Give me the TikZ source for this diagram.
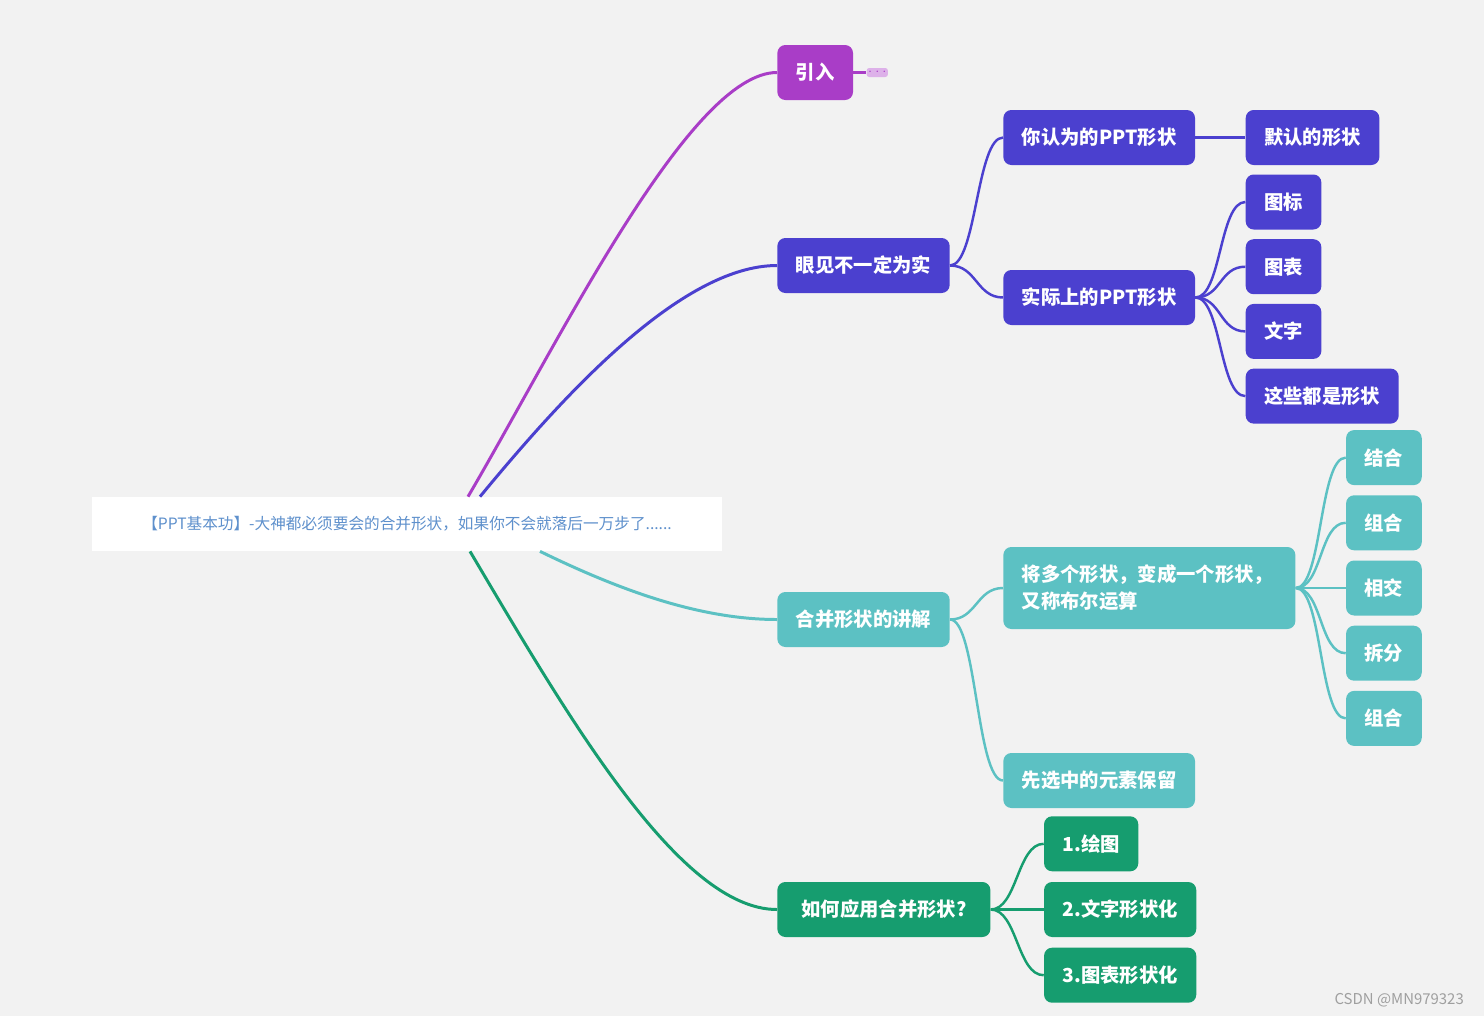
\documentclass[tikz,border=0pt]{standalone}
\usepackage{fontspec}
\setmainfont{Noto Sans CJK SC}
\usepackage{xcolor}
\usepackage{tikz}
\usetikzlibrary{shapes, positioning}

\definecolor{bgGray}{HTML}{F2F2F2}
\definecolor{introPurple}{HTML}{A93DC7}
\definecolor{seeBlue}{HTML}{4B40CF}
\definecolor{mergeTeal}{HTML}{5CC1C3}
\definecolor{applyGreen}{HTML}{169D6F}
\definecolor{rootText}{HTML}{5E90CC}

\tikzstyle{topic} = [rectangle, rounded corners=0.16cm, text=white,
    inner xsep=0.37cm, minimum height=1.1cm, font=\fontsize{11pt}{15.3pt}\selectfont\bfseries]
\tikzstyle{branch} = [line width=1.7pt]
\tikzstyle{twig} = [line width=1.4pt]

\begin{document}
\begin{tikzpicture}
    \useasboundingbox [fill=bgGray] (0,0) rectangle (29.68,-20.32);

    % Place nodes
	\node [fill=white, minimum width=12.6cm, minimum height=1.08cm, text=rootText,
	    font=\fontsize{8.9pt}{10pt}\selectfont] (Root) at (8.14,-10.48) {【PPT基本功】-大神都必须要会的合并形状，如果你不会就落后一万步了......};

	\node [topic, fill=introPurple, anchor=west] (Intro) at (15.54,-1.45) {引入};
	\node [topic, fill=seeBlue, anchor=west] (Seeing) at (15.54,-5.31) {眼见不一定为实};
	\node [topic, fill=mergeTeal, anchor=west] (Explain) at (15.54,-12.39) {合并形状的讲解};
	\node [topic, fill=applyGreen, anchor=west, minimum width=4.26cm] (Apply) at (15.54,-18.19) {如何应用合并形状?};

	\node [rectangle, rounded corners=0.05cm, fill=introPurple!40, text=introPurple, inner sep=0pt,
	    minimum width=0.4cm, minimum height=0.18cm, font=\fontsize{4pt}{4pt}\selectfont, right=0.26cm of Intro] (More) {···};

	\node [topic, fill=seeBlue, right=1.06cm of Seeing, yshift=2.56cm] (Think) {你认为的PPT形状};
	\node [topic, fill=seeBlue, right=1.06cm of Seeing, yshift=-0.64cm] (Actual) {实际上的PPT形状};
	\node [topic, fill=seeBlue, right=1.0cm of Think] (Default) {默认的形状};
	\node [topic, fill=seeBlue, right=1.0cm of Actual, yshift=1.91cm] (Icon) {图标};
	\node [topic, fill=seeBlue, below right=0.18cm and 0cm of Icon.south west] (Chart) {图表};
	\node [topic, fill=seeBlue, below right=0.18cm and 0cm of Chart.south west] (Words) {文字};
	\node [topic, fill=seeBlue, below right=0.18cm and 0cm of Words.south west] (AllShapes) {这些都是形状};

	\node [topic, fill=mergeTeal, text width=5.1cm, align=left, minimum height=1.64cm,
	    right=1.06cm of Explain, yshift=0.63cm] (Boolean) {将多个形状，变成一个形状，\\又称布尔运算};
	\node [topic, fill=mergeTeal, right=1.06cm of Explain, yshift=-3.22cm] (Keep) {先选中的元素保留};
	\node [topic, fill=mergeTeal, right=1.0cm of Boolean] (Intersect) {相交};
	\node [topic, fill=mergeTeal, above=0.19cm of Intersect] (Combine) {组合};
	\node [topic, fill=mergeTeal, above=0.19cm of Combine] (Union) {结合};
	\node [topic, fill=mergeTeal, below=0.19cm of Intersect] (Fragment) {拆分};
	\node [topic, fill=mergeTeal, below=0.19cm of Fragment] (Group) {组合};

	\node [topic, fill=applyGreen, right=1.06cm of Apply] (TextShape) {2.文字形状化};
	\node [topic, fill=applyGreen, above right=0.2cm and 0cm of TextShape.north west] (Drawing) {1.绘图};
	\node [topic, fill=applyGreen, below right=0.2cm and 0cm of TextShape.south west] (ChartShape) {3.图表形状化};

	\node [text=gray!75, font=\fontsize{8.5pt}{9pt}\selectfont, anchor=east] (Mark) at (29.4,-20.0) {CSDN @MN979323};

	% Branches from the root
	\draw [branch, introPurple] ([xshift=1.22cm]Root.north) .. controls +(1.84,3.14) and +(-1.74,0) .. (Intro.west);
	\draw [branch, seeBlue] ([xshift=1.46cm]Root.north) .. controls +(1.6,1.94) and +(-1.94,0) .. (Seeing.west);
	\draw [branch, mergeTeal] ([xshift=2.66cm]Root.south) .. controls +(1.6,-0.78) and +(-1.54,0) .. (Explain.west);
	\draw [branch, applyGreen] ([xshift=1.26cm]Root.south) .. controls +(2.0,-3.38) and +(-1.94,0) .. (Apply.west);

	\draw [twig, introPurple] (Intro.east) -- (More.west);

	\draw [twig, seeBlue] (Seeing.east) .. controls +(0.53,0) and +(-0.53,0) .. (Think.west);
	\draw [twig, seeBlue] (Seeing.east) .. controls +(0.53,0) and +(-0.53,0) .. (Actual.west);
	\draw [twig, seeBlue] (Think.east) -- (Default.west);
	\draw [twig, seeBlue] (Actual.east) .. controls +(0.52,0) and +(-0.52,0) .. (Icon.west);
	\draw [twig, seeBlue] (Actual.east) .. controls +(0.52,0) and +(-0.52,0) .. (Chart.west);
	\draw [twig, seeBlue] (Actual.east) .. controls +(0.52,0) and +(-0.52,0) .. (Words.west);
	\draw [twig, seeBlue] (Actual.east) .. controls +(0.52,0) and +(-0.52,0) .. (AllShapes.west);

	\draw [twig, mergeTeal] (Explain.east) .. controls +(0.53,0) and +(-0.53,0) .. (Boolean.west);
	\draw [twig, mergeTeal] (Explain.east) .. controls +(0.53,0) and +(-0.53,0) .. (Keep.west);
	\draw [twig, mergeTeal] (Boolean.east) .. controls +(0.53,0) and +(-0.53,0) .. (Union.west);
	\draw [twig, mergeTeal] (Boolean.east) .. controls +(0.53,0) and +(-0.53,0) .. (Combine.west);
	\draw [twig, mergeTeal] (Boolean.east) -- (Intersect.west);
	\draw [twig, mergeTeal] (Boolean.east) .. controls +(0.53,0) and +(-0.53,0) .. (Fragment.west);
	\draw [twig, mergeTeal] (Boolean.east) .. controls +(0.53,0) and +(-0.53,0) .. (Group.west);

	\draw [twig, applyGreen] (Apply.east) .. controls +(0.53,0) and +(-0.53,0) .. (Drawing.west);
	\draw [twig, applyGreen] (Apply.east) -- (TextShape.west);
	\draw [twig, applyGreen] (Apply.east) .. controls +(0.53,0) and +(-0.53,0) .. (ChartShape.west);

\end{tikzpicture}
\end{document}
